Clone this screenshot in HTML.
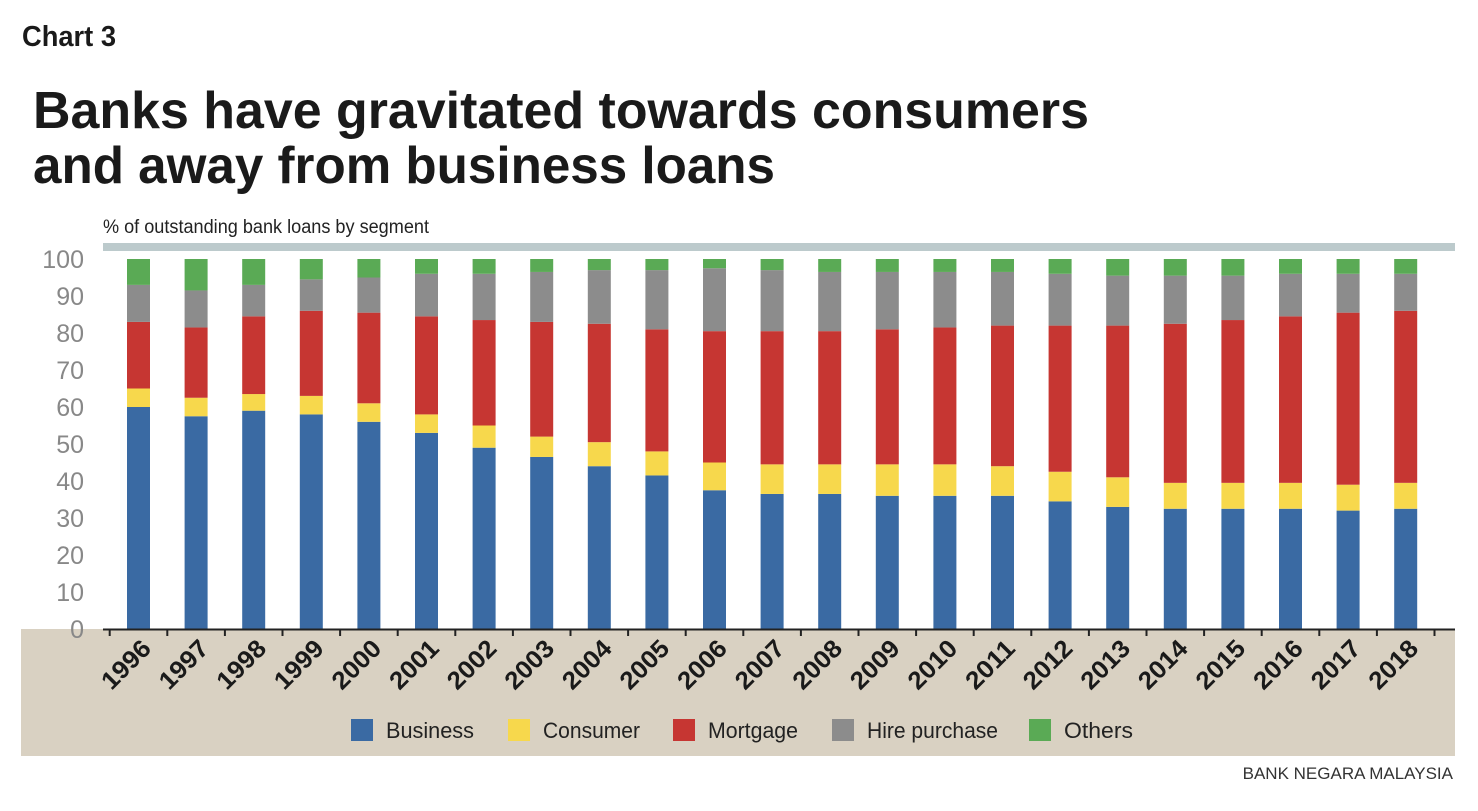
<!DOCTYPE html><html><head><meta charset="utf-8"><style>
body{margin:0;width:1478px;height:806px;background:#fff;overflow:hidden;font-family:"Liberation Sans",sans-serif}
</style></head><body>
<svg id="s" width="1478" height="806" xmlns="http://www.w3.org/2000/svg" font-family="Liberation Sans, sans-serif">
<text x="22" y="46" font-size="29" font-weight="bold" fill="#1a1a1a" textLength="94" lengthAdjust="spacingAndGlyphs">Chart 3</text>
<text x="33" y="128" font-size="52" font-weight="bold" fill="#1a1a1a" textLength="1056" lengthAdjust="spacingAndGlyphs">Banks have gravitated towards consumers</text>
<text x="33" y="183" font-size="52" font-weight="bold" fill="#1a1a1a" textLength="742" lengthAdjust="spacingAndGlyphs">and away from business loans</text>
<text x="103" y="233" font-size="19" fill="#222" textLength="326" lengthAdjust="spacingAndGlyphs">% of outstanding bank loans by segment</text>
<rect x="103" y="243" width="1352" height="8" fill="#bccacc"/>
<rect x="21" y="629" width="1434" height="127" fill="#d9d1c2"/>
<g id="g"></g>
<line x1="103" y1="629.5" x2="1455" y2="629.5" stroke="#222" stroke-width="2"/>
<text x="1453" y="779" font-size="17" fill="#333" text-anchor="end">BANK NEGARA MALAYSIA</text>
<g font-size="22" fill="#222">
<rect x="351" y="719" width="22" height="22" fill="#3a6aa3"/><text x="386" y="738" textLength="88" lengthAdjust="spacingAndGlyphs">Business</text>
<rect x="508" y="719" width="22" height="22" fill="#f7d84c"/><text x="543" y="738" textLength="97" lengthAdjust="spacingAndGlyphs">Consumer</text>
<rect x="673" y="719" width="22" height="22" fill="#c63632"/><text x="708" y="738" textLength="90" lengthAdjust="spacingAndGlyphs">Mortgage</text>
<rect x="832" y="719" width="22" height="22" fill="#8c8c8c"/><text x="867" y="738" textLength="131" lengthAdjust="spacingAndGlyphs">Hire purchase</text>
<rect x="1029" y="719" width="22" height="22" fill="#5aaa55"/><text x="1064" y="738" textLength="69" lengthAdjust="spacingAndGlyphs">Others</text>
</g>
</svg>
<script>
var d=[[60,65,83,93],[57.5,62.5,81.5,91.5],[59,63.5,84.5,93],[58,63,86,94.5],[56,61,85.5,95],[53,58,84.5,96],[49,55,83.5,96],[46.5,52,83,96.5],[44,50.5,82.5,97],[41.5,48,81,97],[37.5,45,80.5,97.5],[36.5,44.5,80.5,97],[36.5,44.5,80.5,96.5],[36,44.5,81,96.5],[36,44.5,81.5,96.5],[36,44,82,96.5],[34.5,42.5,82,96],[33,41,82,95.5],[32.5,39.5,82.5,95.5],[32.5,39.5,83.5,95.5],[32.5,39.5,84.5,96],[32,39,85.5,96],[32.5,39.5,86,96]];
var c=["#3a6aa3","#f7d84c","#c63632","#8c8c8c","#5aaa55"];
var y=v=>629-v*3.7,h="";
for(var i=0;i<=10;i++)h+=`<text x="84" y="${y(i*10)+9}" font-size="25" fill="#888" text-anchor="end">${i*10}</text>`;
for(var i=0;i<23;i++){var cx=138.5+i*57.6,b=[0].concat(d[i]).concat([100]);
for(var k=0;k<5;k++)h+=`<rect x="${cx-11.5}" y="${y(b[k+1])}" width="23" height="${(b[k+1]-b[k])*3.7}" fill="${c[k]}"/>`;
h+=`<line x1="${cx-28.8}" y1="629" x2="${cx-28.8}" y2="636" stroke="#222" stroke-width="2"/>`;
h+=`<text transform="translate(${cx+14},${650}) rotate(-45)" font-size="25" font-weight="bold" fill="#1a1a1a" text-anchor="end" textLength="58" lengthAdjust="spacingAndGlyphs">${1996+i}</text>`;}
h+=`<line x1="${138.5+23*57.6-28.8}" y1="629" x2="${138.5+23*57.6-28.8}" y2="636" stroke="#222" stroke-width="2"/>`;
document.getElementById("g").innerHTML=h;
</script>
</body></html>
